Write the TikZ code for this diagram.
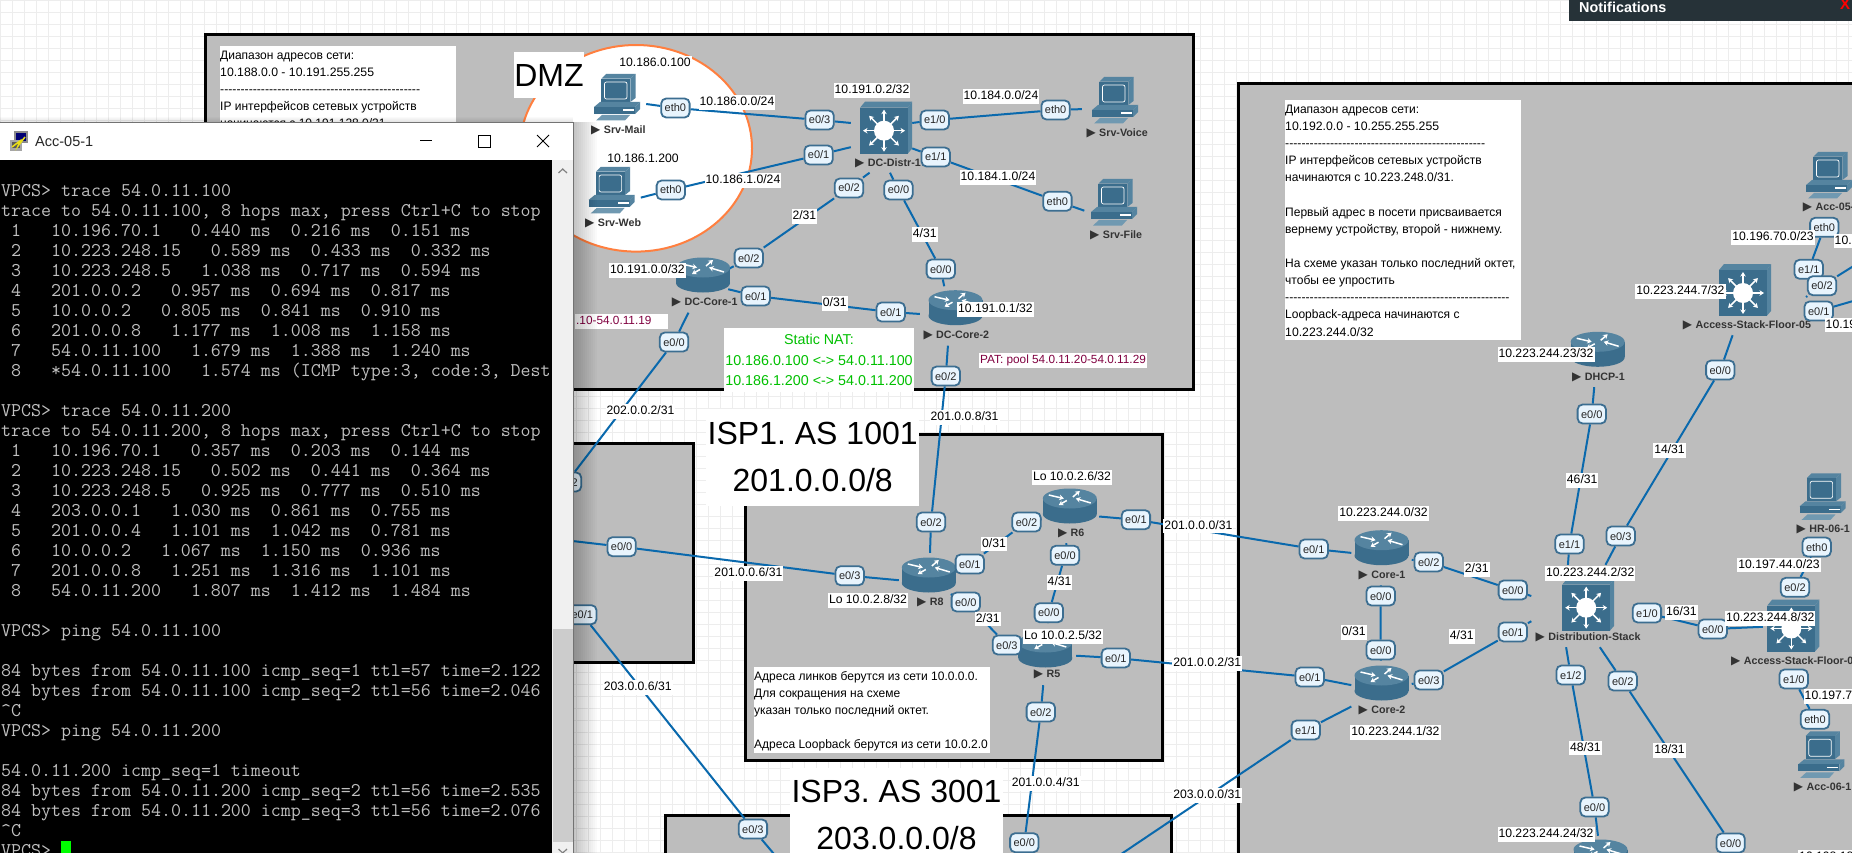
\documentclass[tikz,border=0pt]{standalone}
\usepackage{fontspec}
\setmainfont{Liberation Sans}
\newfontfamily\lab{Liberation Sans}
\newfontfamily\cy{Liberation Sans}[FakeStretch=0.98]
\newfontfamily\symfont{DejaVu Sans}
\usetikzlibrary{arrows.meta}
\definecolor{gridc}{HTML}{EDEDED}
\definecolor{regiongray}{HTML}{BDBDBD}
\definecolor{linkblue}{HTML}{0A69AD}
\definecolor{pillfill}{HTML}{E8F4FD}
\definecolor{pillline}{HTML}{3C6E91}
\definecolor{icondark}{HTML}{3B6D8C}
\definecolor{iconmid}{HTML}{5584A0}
\definecolor{iconlight}{HTML}{7099B1}
\definecolor{nattext}{HTML}{00C000}
\definecolor{pattext}{HTML}{800040}
\definecolor{cloudline}{HTML}{FF7F3F}
\definecolor{termtextc}{HTML}{C0C0C0}
\definecolor{namegray}{HTML}{333333}
\definecolor{notifbar}{HTML}{263238}
\pgfdeclarelayer{framelayer}
\pgfdeclarelayer{linklayer}
\pgfsetlayers{framelayer,linklayer,main}
\tikzset{
  region/.style={fill=regiongray,draw=black,line width=3pt},
  netlink/.style={draw=linkblue,line width=2pt},
  labl/.style={fill=white,inner xsep=1pt,inner ysep=1.5pt,text=black,text height=9pt,text depth=2.5pt,font=\fontsize{12.2}{14}\lab},
  portpill/.style={fill=pillfill,draw=pillline,line width=1.8pt,rounded corners=5pt,inner xsep=3.5pt,inner ysep=0pt,minimum height=19pt,text=black!85,font=\fontsize{11}{12}\lab,text height=8pt,text depth=0pt},
  devarea/.style={inner sep=0pt,draw=none},
  devname/.style={inner sep=0pt,text=namegray,font=\fontsize{10.7}{12}\lab\bfseries},
  notebox/.style={inner xsep=0pt,inner ysep=0pt,anchor=north west,align=left,text=black,font=\fontsize{12.25}{17.15}\lab},
  titlebox/.style={fill=white,inner sep=0pt,align=center,text=black,font=\fontsize{32}{46.7}\lab},
  termline/.style={inner sep=0pt,anchor=base west,text=termtextc,font=\fontsize{19.4}{20}\selectfont\ttfamily},
  hubarrow/.style={white,line width=1.5pt,-{Stealth[length=4.5pt,width=5.5pt]}},
  routericon/.pic={
    \fill[icondark] (0,8) ellipse[x radius=27,y radius=9.5];
    \fill[icondark] (-27,-7.5) rectangle (27,8);
    \fill[iconmid] (0,-7.5) ellipse[x radius=27,y radius=10];
    \draw[hubarrow] (-21,-11) -- (-6,-7.5);
    \draw[hubarrow] (-3,-5.5) -- (-11,-1);
    \draw[hubarrow] (3,-9) -- (10,-15);
    \draw[hubarrow] (21,-3) -- (6,-7.5);
  },
  switchicon/.pic={
    \fill[iconmid] (-26,-20) -- (-21,-26) -- (26,-26) -- (21.7,-20) -- cycle;
    \fill[iconmid] (21.7,-20) -- (26,-26) -- (26,21) -- (21.7,26) -- cycle;
    \fill[icondark] (-26,-20) rectangle (21.7,26);
    \fill[white] (-2,3) circle (10);
    \foreach \a in {0,45,...,315}
      \draw[hubarrow] ({-2+9*cos(\a)},{3+9*sin(\a)}) -- ({-2+21*cos(\a)},{3+21*sin(\a)});
  },
  pcicon/.pic={
    \fill[iconmid] (-15.7,-18.3) -- (-11,-23) -- (18.5,-23) -- (13.3,-18.3) -- cycle;
    \fill[iconmid] (13.3,-18.3) -- (18.5,-23) -- (18.5,1) -- (13.3,5) -- cycle;
    \fill[icondark] (-15.7,-18.3) rectangle (13.3,5);
    \draw[white,line width=.7pt,fill=icondark,rounded corners=2pt] (-12.5,-15) rectangle (10,2);
    \fill[iconmid] (-23,10) -- (-17,5) -- (23,5) -- (18,10) -- cycle;
    \fill[icondark] (-23,10) rectangle (18,17);
    \fill[iconmid] (18,10) -- (23,5) -- (23,12) -- (18,17) -- cycle;
    \fill[white] (6,12.5) rectangle (17,14);
    \fill[iconlight] (-15,18) -- (-21,23.5) -- (8,23.5) -- (13,18) -- cycle;
  },
}
\newcommand{\mkdev}[5]{\node[devarea,minimum width=#4pt,minimum height=#5pt] (#1) at (#2,#3) {};}
\newcommand{\mkname}[4]{\node[devname,anchor=west] (#1) at (#2,#3) {\makebox[12.7pt][l]{\fontsize{12}{12}\symfont ▶}#4};}
\newcommand{\mkport}[4]{\node[portpill] (#1) at (#2,#3) {#4};}
\newcommand{\mklab}[4]{\node[labl] (#1) at (#2,#3) {#4};}
\newcommand{\tl}[2]{\node[termline] (term#1) at (1,{196.8+20*#1}) {#2};}
\begin{document}
\begin{tikzpicture}[x=1pt,y=-1pt]
\useasboundingbox (0,0) rectangle (1852,853);
\begin{pgfonlayer}{framelayer}
  \fill[white] (0,0) rectangle (1852,853);
  \draw[gridc,line width=.8pt,xstep=12pt,ystep=12pt] (0,0) grid (1852,853);
  \path[region] (205.6,35) rectangle (1193,389);
  \fill[white,draw=cloudline,line width=2pt] (636,148.3) ellipse[x radius=116,y radius=103.3];
  \path[region] (-10,443) rectangle (693,662);
  \path[region] (745.7,434) rectangle (1162.7,760);
  \path[region] (665,815) rectangle (1171.4,875);
  \path[region] (1238,83.3) rectangle (1870,875);
\end{pgfonlayer}

% device areas
\mkdev{srvmail}{617}{100}{58}{56}
\mkdev{srvweb}{611.6}{205}{58}{60}
\mkdev{srvvoice}{1115}{108}{66}{56}
\mkdev{srvfile}{1114}{221}{59}{60}
\mkdev{distr}{881.5}{136}{61}{73}
\mkdev{dccore1}{703}{283}{50}{59}
\mkdev{dccore2}{950}{316}{60}{59}
\mkdev{rr8}{929}{583}{60}{60}
\mkdev{rr6}{1070}{514}{58}{58}
\mkdev{rr5}{1046}{654}{60}{62}
\mkdev{core1}{1381.5}{556}{60}{58}
\mkdev{core2}{1381.5}{691}{60}{60}
\mkdev{dstack}{1588}{606}{113}{82}
\mkdev{dhcp}{1597.7}{349}{60}{76}
\mkdev{asf5}{1745}{300}{60}{70}
\mkdev{asf6}{1793}{625.5}{60}{60}
\mkdev{brouter}{1600.5}{857}{60}{42}
\coordinate (outA) at (540,517);
\coordinate (outB) at (555,539);
\coordinate (outC) at (790,873);
\coordinate (outD) at (1023,873);
\coordinate (outE) at (1090,875);
\coordinate (outF) at (1750,873);
\coordinate (outG) at (1806,297);
\coordinate (outH) at (1860,262);
\coordinate (outI) at (1860,299);

% icons
\pic at (617,97) {pcicon};
\pic at (611.6,190) {pcicon};
\pic at (1115,100) {pcicon};
\pic at (1114,202) {pcicon};
\pic at (886,127.7) {switchicon};
\pic at (703,275) {routericon};
\pic at (955.5,307.7) {routericon};
\pic at (928.8,575) {routericon};
\pic at (1069.8,506) {routericon};
\pic at (1045.3,650) {routericon};
\pic at (1381.5,547.7) {routericon};
\pic at (1381.5,683) {routericon};
\pic at (1597.7,349.3) {routericon};
\pic at (1600.5,857) {routericon};
\pic at (1588.2,604.7) {switchicon};
\pic at (1745,290) {switchicon};
\pic at (1793.3,625.5) {switchicon};
\pic at (1829,175) {pcicon};
\pic at (1822.6,496.3) {pcicon};
\pic at (1821.3,754.3) {pcicon};

% device names
\mkname{nmail}{591}{130}{Srv-Mail}
\mkname{nweb}{585}{223}{Srv-Web}
\mkname{nvoice}{1086.3}{133}{Srv-Voice}
\mkname{nfile}{1090}{235}{Srv-File}
\mkname{ndistr}{855}{163.3}{DC-Distr-1}
\mkname{ncore1dc}{671.7}{302}{DC-Core-1}
\mkname{ncore2dc}{923.3}{335}{DC-Core-2}
\mkname{nr8}{917}{602}{R8}
\mkname{nr6}{1057.8}{533}{R6}
\mkname{nr5}{1033.7}{674}{R5}
\mkname{ncore1}{1358.5}{575}{Core-1}
\mkname{ncore2}{1358.5}{710}{Core-2}
\mkname{ndhcp}{1572}{377}{DHCP-1}
\mkname{ndstack}{1535.5}{637}{Distribution-Stack}
\mkname{nasf5}{1682.7}{325}{Access-Stack-Floor-05}
\mkname{nasf6}{1731}{661}{Access-Stack-Floor-0}
\mkname{nacc5}{1802.7}{207.7}{Acc-05-}
\mkname{nacc6}{1793.7}{787}{Acc-06-1}
\mkname{nhr}{1796.5}{529}{HR-06-1}

% port pills
\mkport{pA}{675.4}{108}{eth0}
\mkport{pB}{819.6}{120}{e0/3}
\mkport{pC}{818.6}{155}{e0/1}
\mkport{pD}{934.8}{120}{e1/0}
\mkport{pE}{935.7}{157}{e1/1}
\mkport{pF}{1055.6}{110}{eth0}
\mkport{pG}{1057.4}{201.3}{eth0}
\mkport{pH}{670.8}{190}{eth0}
\mkport{pI}{849}{188}{e0/2}
\mkport{pJ}{898.5}{190}{e0/0}
\mkport{pK}{748.8}{258}{e0/2}
\mkport{pL}{940.8}{269}{e0/0}
\mkport{pM}{755.7}{296}{e0/1}
\mkport{pN}{890.7}{312}{e0/1}
\mkport{pO}{674}{342}{e0/0}
\mkport{pP}{945.8}{376}{e0/2}
\mkport{qA}{931}{522}{e0/2}
\mkport{qB}{1026.5}{522}{e0/2}
\mkport{qC}{1135.9}{519.7}{e0/1}
\mkport{qD}{1065}{555.3}{e0/0}
\mkport{qE}{969.8}{564}{e0/1}
\mkport{qF}{849.7}{575.7}{e0/3}
\mkport{qG}{621.6}{546.7}{e0/0}
\mkport{qH}{965.8}{602}{e0/0}
\mkport{qI}{1048.8}{612.7}{e0/0}
\mkport{qJ}{1006.9}{645}{e0/3}
\mkport{qK}{1115.8}{658}{e0/1}
\mkport{qL}{1040.8}{712}{e0/2}
\mkport{qM}{582.3}{614.7}{e0/1}
\mkport{qN}{567}{482}{e0/2}
\mkport{qO}{752.9}{829}{e0/3}
\mkport{qP}{1024.3}{842.7}{e0/0}
\mkport{rA}{1824.3}{227.3}{eth0}
\mkport{rB}{1808.7}{269.3}{e1/1}
\mkport{rC}{1822}{285.7}{e0/2}
\mkport{rD}{1818.7}{311}{e0/1}
\mkport{rE}{1720.3}{370}{e0/0}
\mkport{rF}{1591.8}{414}{e0/0}
\mkport{rG}{1569.5}{544}{e1/1}
\mkport{rH}{1620.7}{536}{e0/3}
\mkport{rI}{1313.7}{549}{e0/1}
\mkport{rJ}{1428.7}{562}{e0/2}
\mkport{rK}{1512.8}{590}{e0/0}
\mkport{rL}{1512.8}{632}{e0/1}
\mkport{rM}{1380.7}{596}{e0/0}
\mkport{rN}{1380.7}{650}{e0/0}
\mkport{rO}{1309.7}{677}{e0/1}
\mkport{rP}{1428.7}{680}{e0/3}
\mkport{rQ}{1305.8}{730}{e1/1}
\mkport{rR}{1646.9}{613}{e1/0}
\mkport{rS}{1712.7}{629}{e0/0}
\mkport{rT}{1570.7}{675}{e1/2}
\mkport{rU}{1622.7}{681}{e0/2}
\mkport{rV}{1594.5}{807}{e0/0}
\mkport{rW}{1730.6}{843}{e0/0}
\mkport{rX}{1795}{587.3}{e0/2}
\mkport{rY}{1816.7}{547}{eth0}
\mkport{rZ}{1793.7}{679}{e1/0}
\mkport{sA}{1815}{719.3}{eth0}
\mkport{sB}{1861}{610}{}
\mkport{sC}{1861}{641.7}{}

% connectors
\begin{pgfonlayer}{linklayer}
  \draw[netlink] (srvmail) -- (pA) -- (pB) -- (distr.157);
  \draw[netlink] (srvweb) -- (pH) -- (pC) -- (distr.200);
  \draw[netlink] (distr.23) -- (pD) -- (pF) -- (srvvoice);
  \draw[netlink] (distr.338) -- (pE) -- (pG) -- (srvfile);
  \draw[netlink] (distr.252) -- (pI) -- (pK) -- (dccore1);
  \draw[netlink] (distr.283) -- (pJ) -- (pL) -- (dccore2);
  \draw[netlink] (dccore1) -- (pM) -- (pN) -- (dccore2);
  \draw[netlink] (dccore1) -- (pO) -- (qN) -- (outA);
  \draw[netlink] (dccore2) -- (pP) -- (qA) -- (rr8);
  \draw[netlink] (rr8) -- (qF) -- (qG) -- (outB);
  \draw[netlink] (rr8) -- (qE) -- (qB) -- (rr6);
  \draw[netlink] (rr8) -- (qH) -- (qJ) -- (rr5);
  \draw[netlink] (rr6) -- (qD) -- (qI) -- (rr5);
  \draw[netlink] (rr6) -- (qC) -- (rI) -- (core1);
  \draw[netlink] (rr5) -- (qK) -- (rO) -- (core2);
  \draw[netlink] (rr5) -- (qL) -- (qP) -- (outD);
  \draw[netlink] (qM) -- (qO) -- (outC);
  \draw[netlink] (core2) -- (rQ) -- (outE);
  \draw[netlink] (core1) -- (rJ) -- (rK) -- (dstack.170.7);
  \draw[netlink] (core2) -- (rP) -- (rL) -- (dstack.195.5);
  \draw[netlink] (core1) -- (rM) -- (rN) -- (core2);
  \draw[netlink] (dstack.116) -- (rG) -- (rF) -- (dhcp);
  \draw[netlink] (dstack.67.5) -- (rH) -- (rE) -- (asf5);
  \draw[netlink] (rR) -- (rS) -- (asf6);
  \draw[netlink] (dstack.242) -- (rT) -- (rV) -- (brouter);
  \draw[netlink] (dstack.286) -- (rU) -- (rW) -- (outF);
  \draw[netlink] (rB) -- (rA);
  \draw[netlink] (outG) -- (rC) -- (outH);
  \draw[netlink] (rD) -- (outI);
  \draw[netlink] (rX) -- (rY);
  \draw[netlink] (rZ) -- (sA);
\end{pgfonlayer}

% address labels
\mklab{a01}{655}{63}{10.186.0.100}
\mklab{a02}{643}{159}{10.186.1.200}
\mklab{a03}{872}{90.7}{10.191.0.2/32}
\mklab{a04}{737}{102.7}{10.186.0.0/24}
\mklab{a05}{743}{180.7}{10.186.1.0/24}
\mklab{a06}{1001}{96.7}{10.184.0.0/24}
\mklab{a07}{998}{177.7}{10.184.1.0/24}
\mklab{a08}{804.4}{216.7}{2/31}
\mklab{a09}{924.7}{234.7}{4/31}
\mklab{a10}{834.7}{303.7}{0/31}
\mklab{a11}{647.4}{270.7}{10.191.0.0/32}
\mklab{a12}{995.4}{309.3}{10.191.0.1/32}
\mklab{a13}{1072}{477.7}{Lo 10.0.2.6/32}
\mklab{a14}{868}{600.7}{Lo 10.0.2.8/32}
\mklab{a15}{1063}{636.7}{Lo 10.0.2.5/32}
\mklab{a16}{994}{544}{0/31}
\mklab{a17}{1059.6}{582.7}{4/31}
\mklab{a18}{987.7}{619}{2/31}
\mklab{a19}{748.4}{573.7}{201.0.0.6/31}
\mklab{a20}{1198.4}{526}{201.0.0.0/31}
\mklab{a21}{1207.3}{663.7}{201.0.0.2/31}
\mklab{a22}{637.7}{687.7}{203.0.0.6/31}
\mklab{a23}{1045.7}{783.7}{201.0.0.4/31}
\mklab{a24}{1207.3}{795.7}{203.0.0.0/31}
\mklab{a25}{964.6}{417.3}{201.0.0.8/31}
\mklab{a26}{640.5}{411.7}{202.0.0.2/31}
\mklab{a27}{1773}{237.7}{10.196.70.0/23}
\node[labl,anchor=west] (a28) at (1833.5,241) {10.};
\node[labl,anchor=west] (a29) at (1824.5,325) {10.19};
\mklab{a30}{1680.4}{291.7}{10.223.244.7/32}
\mklab{a31}{1546}{354.3}{10.223.244.23/32}
\mklab{a32}{1582.2}{480.7}{46/31}
\mklab{a33}{1669.5}{450.7}{14/31}
\mklab{a34}{1590.2}{573.7}{10.223.244.2/32}
\mklab{a35}{1383.5}{513.3}{10.223.244.0/32}
\mklab{a36}{1476.7}{569.7}{2/31}
\mklab{a37}{1461.7}{636.7}{4/31}
\mklab{a38}{1353.8}{632.7}{0/31}
\mklab{a39}{1395.4}{732.7}{10.223.244.1/32}
\mklab{a40}{1681.4}{612.7}{16/31}
\mklab{a41}{1585.4}{748}{48/31}
\mklab{a42}{1669.5}{750.7}{18/31}
\mklab{a43}{1546}{834.7}{10.223.244.24/32}
\mklab{a44}{1779}{565}{10.197.44.0/23}
\mklab{a45}{1770.3}{618.3}{10.223.244.8/32}
\node[labl,anchor=west] (a46) at (1803.5,696.7) {10.197.7};
\node[labl,anchor=west] (a47) at (1798,857) {10.198.18};

% NAT and PAT notes
\node[labl,font=\fontsize{11.8}{14}\lab,text=pattext] (patbox) at (1063,360.7) {PAT: pool 54.0.11.20-54.0.11.29};
\node[labl,font=\fontsize{11.8}{14}\lab,text=pattext,text width=91pt,align=left] (natleft) at (621.7,321.5) {.10-54.0.11.19};
\node[fill=white,inner sep=0pt,minimum width=190pt,minimum height=64pt,align=center,text=nattext,font=\fontsize{14.3}{20.8}\lab] (natbox) at (819,360) {Static NAT:\\10.186.0.100 <-> 54.0.11.100\\10.186.1.200 <-> 54.0.11.200};

% text boxes
\fill[white] (220,46) rectangle (456,160);
\fill[white] (1285,100) rectangle (1521,340);
\fill[white] (754,667) rectangle (990,752.7);
\node[notebox] (noteDMZ) at (220,50.5) {{\cy Диапазон адресов сети:}\\10.188.0.0 - 10.191.255.255\\-------------------------------------------------\\{\cy IP интерфейсов сетевых устройств}\\{\cy начинаются с 10.191.128.0/31.}};
\node[notebox] (noteLAN) at (1285,104.5) {{\cy Диапазон адресов сети:}\\10.192.0.0 - 10.255.255.255\\-------------------------------------------------\\{\cy IP интерфейсов сетевых устройств}\\{\cy начинаются с 10.223.248.0/31.}\\[17.15pt]{\cy Первый адрес в посети присваивается}\\{\cy вернему устройству, второй - нижнему.}\\[17.15pt]{\cy На схеме указан только последний октет,}\\{\cy чтобы ее упростить}\\-------------------------------------------------------\\{\cy Loopback-адреса начинаются с}\\10.223.244.0/32};
\node[notebox] (noteISP) at (754,671) {{\cy Адреса линков берутся из сети 10.0.0.0.}\\{\cy Для сокращения на схеме}\\{\cy указан только последний октет.}\\[17.15pt]{\cy Адреса Loopback берутся из сети 10.0.2.0}};

% titles
\node[titlebox,minimum width=70pt,minimum height=46pt] (tDMZ) at (549,75) {DMZ};
\node[titlebox,minimum width=212.6pt,minimum height=97pt] (tISP1) at (812.7,457) {ISP1.\ AS 1001\\201.0.0.0/8};
\node[titlebox,minimum width=213pt,minimum height=95pt] (tISP3) at (896.5,815) {ISP3.\ AS 3001\\203.0.0.0/8};

% notifications bar
\fill[notifbar] (1569,0) rectangle (1852,21);
\node[inner sep=0pt,anchor=west,text=white,font=\fontsize{14.4}{16}\lab\bfseries] (notif) at (1579,7) {Notifications};
\node[inner sep=0pt,text=red,font=\fontsize{15}{16}\lab\bfseries] (notifx) at (1845,4) {X};

% window shadow
\foreach \d in {2,4,...,24} \fill[black,opacity=.018] (573.4,122.3) rectangle (573.4+\d,853);
\foreach \d in {1,2,3,4,5} \fill[black,opacity=.02] (0,122.3-\d) rectangle (573.4,122.3);

% terminal window
\fill[white,draw=black!55,line width=.8pt] (-2,122.3) rectangle (573.4,860);
\fill[black] (0,160) rectangle (552,853);
\fill[black!6] (552,160) rectangle (573,853);
\fill[black!20] (552.8,629.3) rectangle (572.6,841.7);
\draw[black!50,line width=1.2pt] (558.5,173) -- (562.7,169) -- (567,173);
\draw[black!50,line width=1.2pt] (558.5,849) -- (562.7,853) -- (567,849);
% title bar
\fill[black!45] (14,131) rectangle (28,143);
\fill[blue!45!black] (16,133) rectangle (26,141);
\fill[black!35] (10,140) rectangle (22,151);
\fill[black!65] (12,142) rectangle (20,148);
\draw[yellow!90!black,line width=1.5pt] (12,147) -- (20,141) -- (18,146) -- (25,137);
\node[inner sep=0pt,anchor=west,text=black!85,font=\fontsize{14.5}{16}\lab] (wintitle) at (35,141.5) {Acc-05-1};
\draw[black,line width=.9pt] (420,140.7) -- (432,140.7);
\draw[black,line width=.9pt] (478,135) rectangle (490,147);
\draw[black,line width=.9pt] (537,135) -- (549,147) (549,135) -- (537,147);
% terminal text
\tl{0}{VPCS>~trace~54.0.11.100}
\tl{1}{trace~to~54.0.11.100,~8~hops~max,~press~Ctrl+C~to~stop}
\tl{2}{~1~~~10.196.70.1~~~0.440~ms~~0.216~ms~~0.151~ms}
\tl{3}{~2~~~10.223.248.15~~~0.589~ms~~0.433~ms~~0.332~ms}
\tl{4}{~3~~~10.223.248.5~~~1.038~ms~~0.717~ms~~0.594~ms}
\tl{5}{~4~~~201.0.0.2~~~0.957~ms~~0.694~ms~~0.817~ms}
\tl{6}{~5~~~10.0.0.2~~~0.805~ms~~0.841~ms~~0.910~ms}
\tl{7}{~6~~~201.0.0.8~~~1.177~ms~~1.008~ms~~1.158~ms}
\tl{8}{~7~~~54.0.11.100~~~1.679~ms~~1.388~ms~~1.240~ms}
\tl{9}{~8~~~*54.0.11.100~~~1.574~ms~(ICMP~type:3,~code:3,~Dest}
\tl{11}{VPCS>~trace~54.0.11.200}
\tl{12}{trace~to~54.0.11.200,~8~hops~max,~press~Ctrl+C~to~stop}
\tl{13}{~1~~~10.196.70.1~~~0.357~ms~~0.203~ms~~0.144~ms}
\tl{14}{~2~~~10.223.248.15~~~0.502~ms~~0.441~ms~~0.364~ms}
\tl{15}{~3~~~10.223.248.5~~~0.925~ms~~0.777~ms~~0.510~ms}
\tl{16}{~4~~~203.0.0.1~~~1.030~ms~~0.861~ms~~0.755~ms}
\tl{17}{~5~~~201.0.0.4~~~1.101~ms~~1.042~ms~~0.781~ms}
\tl{18}{~6~~~10.0.0.2~~~1.067~ms~~1.150~ms~~0.936~ms}
\tl{19}{~7~~~201.0.0.8~~~1.251~ms~~1.316~ms~~1.101~ms}
\tl{20}{~8~~~54.0.11.200~~~1.807~ms~~1.412~ms~~1.484~ms}
\tl{22}{VPCS>~ping~54.0.11.100}
\tl{24}{84~bytes~from~54.0.11.100~icmp\_seq=1~ttl=57~time=2.122}
\tl{25}{84~bytes~from~54.0.11.100~icmp\_seq=2~ttl=56~time=2.046}
\tl{26}{\textasciicircum C}
\tl{27}{VPCS>~ping~54.0.11.200}
\tl{29}{54.0.11.200~icmp\_seq=1~timeout}
\tl{30}{84~bytes~from~54.0.11.200~icmp\_seq=2~ttl=56~time=2.535}
\tl{31}{84~bytes~from~54.0.11.200~icmp\_seq=3~ttl=56~time=2.076}
\tl{32}{\textasciicircum C}
\tl{33}{VPCS>}
\fill[green] (61.3,841) rectangle (71,853);
\end{tikzpicture}
\end{document}
